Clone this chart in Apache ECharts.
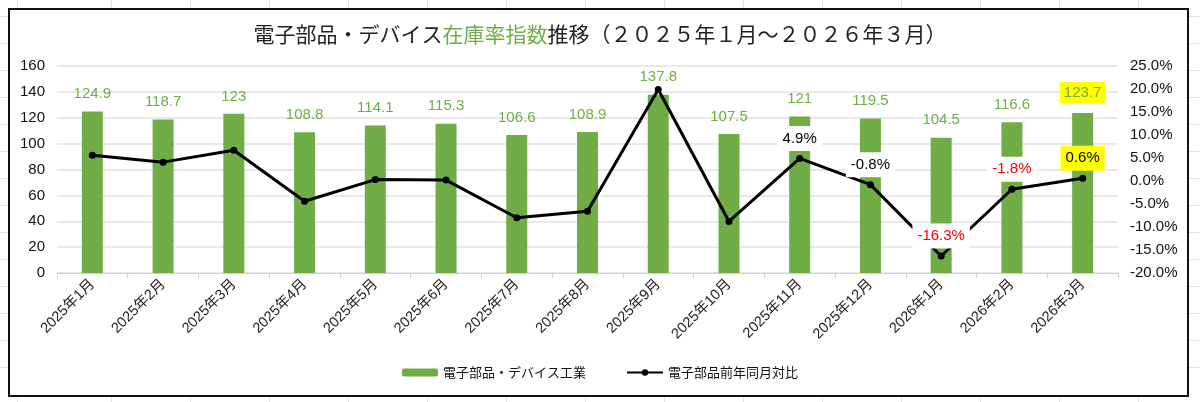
<!DOCTYPE html>
<html>
<head>
<meta charset="utf-8">
<title>電子部品・デバイス在庫率指数推移</title>
<script src="https://cdn.jsdelivr.net/npm/echarts@6/dist/echarts.min.js"></script>
<style>
    html, body { margin: 0; padding: 0; }
    body {
        width: 1200px; height: 402px; position: relative; overflow: hidden;
        background-color: #fff;
        background-image:
            repeating-linear-gradient(to right, transparent 0, transparent 78px, #e3e3e3 78px, #e3e3e3 79px),
            repeating-linear-gradient(to bottom, transparent 0, transparent 26px, #e3e3e3 26px, #e3e3e3 27px);
        background-position: 33px 0, 0 -10px;
    }
    #frame {
        position: absolute; left: 8px; top: 8px; width: 1177px; height: 385px;
        border: 2px solid #111; background: #fff;
    }
    #main { position: absolute; left: 0; top: 0; width: 1200px; height: 402px; }
</style>
</head>
<body>
<div id="frame"></div>
<div id="main"></div>
<script>
'use strict';

// 月
var months = ['2025年1月', '2025年2月', '2025年3月', '2025年4月', '2025年5月',
    '2025年6月', '2025年7月', '2025年8月', '2025年9月', '2025年10月',
    '2025年11月', '2025年12月', '2026年1月', '2026年2月', '2026年3月'];

// 在庫率指数（電子部品・デバイス工業）
var inventory = [124.9, 118.7, 123, 108.8, 114.1, 115.3, 106.6, 108.9, 137.8, 107.5,
    121, 119.5, 104.5, 116.6, 123.7];

// 前年同月比（%）
var yoy = [5.6, 4.1, 6.7, -4.4, 0.3, 0.2, -8.0, -6.6, 19.9, -8.8,
    4.9, -0.8, -16.3, -1.8, 0.6];

var green = '#70AD47';
var font = '"Liberation Sans", "Noto Sans CJK JP", sans-serif';
var jpFont = '"Noto Sans CJK JP", sans-serif';

(function() {
    var myChart = echarts.init(document.getElementById('main'));

    // 棒のラベル（最後の月だけ黄色で強調）
    var barData = inventory.map(function(v, i) {
        if (i === inventory.length - 1) {
            return { value: v, label: { backgroundColor: '#FFFF00', padding: [3, 4] } };
        }
        return v;
    });

    // 折れ線のラベル（直近5か月だけ表示）
    var lineData = yoy.map(function(v, i) {
        if (i < yoy.length - 5) return v;
        var lab = {
            show: true,
            color: v < -1 ? '#FF0000' : '#000',
            backgroundColor: '#fff',
            padding: [5, 5],
            distance: 4
        };
        if (i === yoy.length - 1) lab.backgroundColor = '#FFFF00';
        return { value: v, label: lab };
    });

    var option = {
        animation: false,
        textStyle: { fontFamily: font },
        title: {
            text: '{b|電子部品・デバイス}{g|在庫率指数}{b|推移（２０２５年１月～２０２６年３月）}',
            left: 'center',
            top: 19,
            textStyle: {
                rich: {
                    b: { fontSize: 21, color: '#222', fontWeight: 'normal', fontFamily: jpFont },
                    g: { fontSize: 21, color: green, fontWeight: 'normal', fontFamily: jpFont }
                }
            }
        },
        legend: {
            bottom: 18,
            left: 'center',
            itemGap: 40,
            itemWidth: 36,
            itemHeight: 8,
            textStyle: { fontSize: 13, color: '#111', fontFamily: jpFont },
            data: ['電子部品・デバイス工業', '電子部品前年同月対比']
        },
        grid: { left: 57, right: 82, top: 66, bottom: 129 },
        xAxis: {
            type: 'category',
            data: months,
            axisLine: { lineStyle: { color: '#d0d0d0' } },
            axisTick: { show: true, lineStyle: { color: '#d0d0d0' }, length: 5 },
            axisLabel: { rotate: 45, fontSize: 14.5, color: '#222', margin: 9, interval: 0 }
        },
        yAxis: [{
            type: 'value',
            min: 0, max: 160, interval: 20,
            axisLine: { show: false },
            axisTick: { show: false },
            axisLabel: { fontSize: 15, color: '#111', margin: 12 },
            splitLine: { lineStyle: { color: '#e2e2e2', width: 1.5 } }
        }, {
            type: 'value',
            min: -20, max: 25, interval: 5,
            axisLine: { show: false },
            axisTick: { show: false },
            splitLine: { show: false },
            axisLabel: {
                fontSize: 15, color: '#111', margin: 12,
                formatter: function(v) { return v.toFixed(1) + '%'; }
            }
        }],
        series: [{
            name: '電子部品・デバイス工業',
            type: 'bar',
            barWidth: 21,
            itemStyle: { color: green },
            label: {
                show: true,
                position: 'top',
                distance: 10,
                fontSize: 15,
                color: green
            },
            data: barData
        }, {
            name: '電子部品前年同月対比',
            type: 'line',
            yAxisIndex: 1,
            symbol: 'circle',
            symbolSize: 7,
            lineStyle: { color: '#000', width: 3 },
            itemStyle: { color: '#000' },
            label: {
                show: false,
                position: 'top',
                fontSize: 15,
                formatter: function(p) { return p.value.toFixed(1) + '%'; }
            },
            data: lineData,
            z: 5
        }]
    };

    myChart.setOption(option);
})();
</script>
</body>
</html>
